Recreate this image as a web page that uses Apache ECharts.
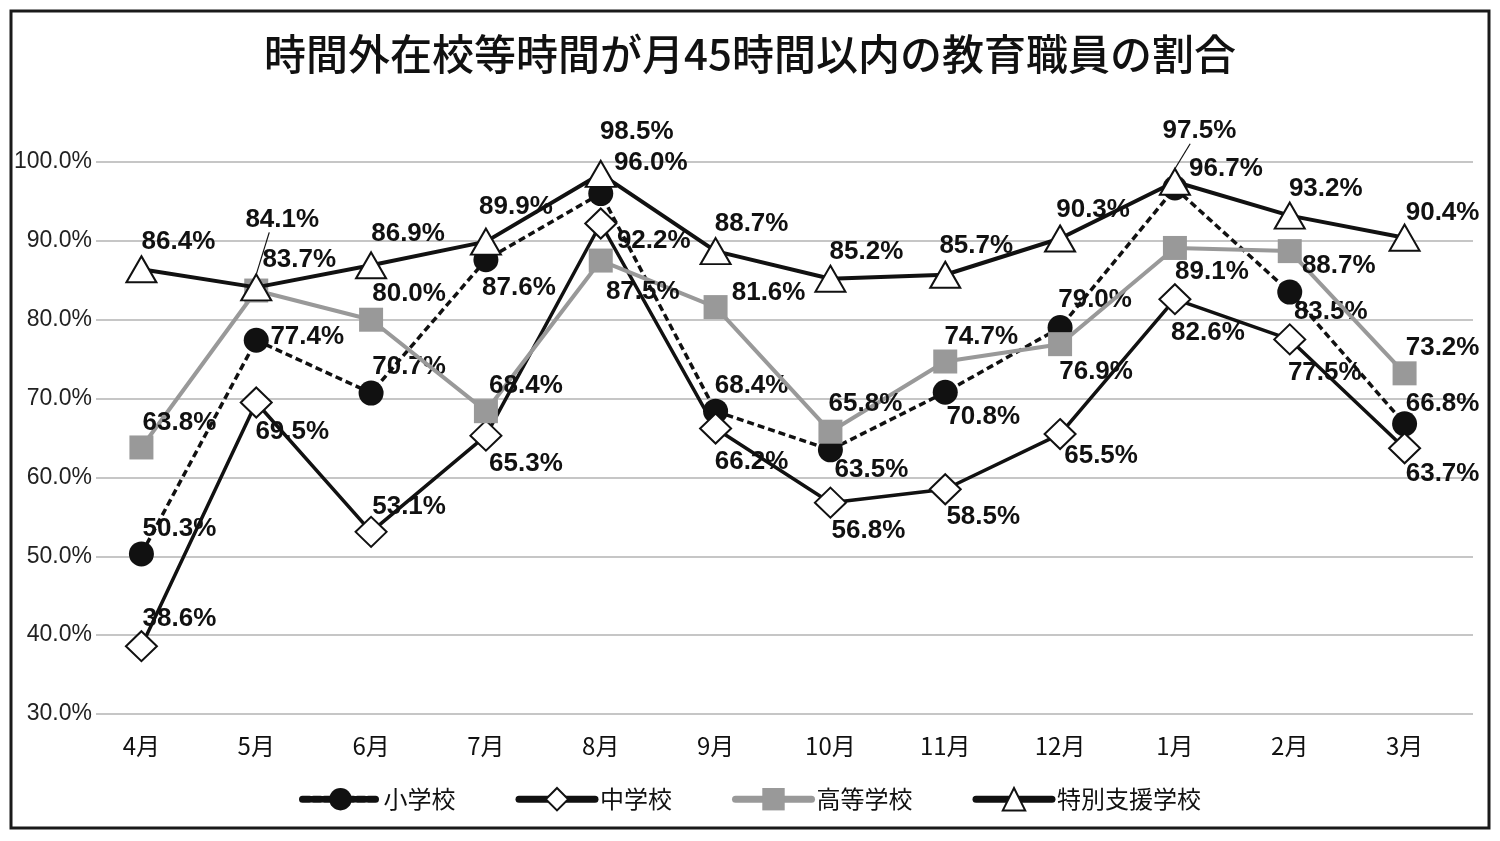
<!DOCTYPE html>
<html><head><meta charset="utf-8">
<script src="https://cdn.jsdelivr.net/npm/echarts@6/dist/echarts.min.js"></script>
<style>html,body{margin:0;padding:0;background:#fff}#c{width:1500px;height:841px}</style>
</head><body><div id="c"></div>
<script>
// ---- data ----
const categories = ['4月','5月','6月','7月','8月','9月','10月','11月','12月','1月','2月','3月'];
const seriesNames = ['小学校','中学校','高等学校','特別支援学校'];
const elementary = [50.3,77.4,70.7,87.6,96.0,68.4,63.5,70.8,79.0,96.7,83.5,66.8];
const juniorHigh = [38.6,69.5,53.1,65.3,92.2,66.2,56.8,58.5,65.5,82.6,77.5,63.7];
const highSchool = [63.8,83.7,80.0,68.4,87.5,81.6,65.8,74.7,76.9,89.1,88.7,73.2];
const special    = [86.4,84.1,86.9,89.9,98.5,88.7,85.2,85.7,90.3,97.5,93.2,90.4];
const yMin = 30, yMax = 100, yStep = 10;

// ---- label placement (style only) ----
const offElem = [[38,-25],[51,-3],[38,-26],[33,28],[50,-31],[36,-25],[41,20],[38,25],[35,-28],[51,-19],[41,20],[38,-20]];
const offJr   = [[38,-27],[36,29],[38,-25],[40,28],[53,17],[36,33],[38,28],[38,28],[41,22],[33,34],[35,33],[38,26]];
const offHigh = [[38,-25],[43,-31],[38,-26],[40,-25],[42,31],[53,-14],[35,-28],[36,-25],[36,28],[37,24],[49,15],[38,-26]];
const offSp   = [[37,-27],[0,-68],[37,-31],[30,-35],[36,-42],[36,-27],[36,-27],[31,-29],[33,-29],[6,-51],[36,-27],[38,-25]];
// leader-line labels: invisible lead-in width so the guide line drops from the label's left part
const leaderSp = {1: 52, 9: 37};

const INK = '#111';
const labelFont = {fontSize: 26, fontWeight: 'bold', fontFamily: '"Liberation Sans", Arial, sans-serif', color: INK};

function mkSeries(name, values, offsets, leaders, sym, symSize, itemStyle, lineStyle, z) {
  const rich = {v: Object.assign({}, labelFont)};
  Object.keys(leaders).forEach(k => { rich['g' + k] = {width: leaders[k], height: 1}; });
  return {
    type: 'line', name: name, xAxisIndex: 1, yAxisIndex: 1,
    data: values.map((v, i) => {
      const d = {value: v};
      if (leaders[i] != null) d.labelLine = {show: true};
      return d;
    }),
    symbol: sym, symbolSize: symSize, showAllSymbol: true,
    itemStyle: itemStyle, lineStyle: lineStyle, z: z,
    emphasis: {disabled: true},
    label: Object.assign({
      show: true, position: 'inside', rich: rich,
      formatter: p => {
        const t = Number(p.value).toFixed(1) + '%';
        return leaders[p.dataIndex] != null ? '{g' + p.dataIndex + '|}{v|' + t + '}' : t;
      }
    }, labelFont),
    labelLayout: p => ({dx: offsets[p.dataIndex][0], dy: offsets[p.dataIndex][1]}),
    labelLine: {show: false, lineStyle: {color: INK, width: 1.2}}
  };
}

const chart = echarts.init(document.getElementById('c'));
chart.setOption({
  animation: false,
  backgroundColor: '#fff',
  title: {
    text: '時間外在校等時間が月45時間以内の教育職員の割合',
    left: 'center', top: 28,
    textStyle: {fontSize: 42, fontWeight: 500, fontFamily: '"Noto Sans CJK JP", sans-serif', color: INK}
  },
  legend: {
    data: seriesNames, top: 782, left: 'center',
    itemWidth: 76, itemHeight: 28, itemGap: 60,
    lineStyle: {width: 7, cap: 'round'},
    textStyle: {fontSize: 24, fontFamily: '"Noto Sans CJK JP", sans-serif', color: INK}
  },
  graphic: [{
    type: 'rect', shape: {x: 11, y: 11, width: 1478, height: 817},
    style: {fill: 'none', stroke: '#1a1a1a', lineWidth: 3}, silent: true, z: 100
  }],
  grid: [
    {left: 96, right: 27, top: 162, bottom: 127},
    {left: 84, right: 38, top: 162, bottom: 127}
  ],
  xAxis: [
    {gridIndex: 0, type: 'category', data: categories, show: false},
    {gridIndex: 1, type: 'category', data: categories,
     axisLine: {show: false}, axisTick: {show: false}, splitLine: {show: false},
     axisLabel: {fontSize: 24, margin: 20, color: INK, fontFamily: '"Noto Sans CJK JP", sans-serif'}}
  ],
  yAxis: [
    {gridIndex: 0, type: 'value', min: yMin, max: yMax, interval: yStep,
     axisLine: {show: false}, axisTick: {show: false},
     splitLine: {lineStyle: {color: '#b3b3b3', width: 1.5}},
     axisLabel: {fontSize: 23, margin: 4, color: '#222', fontFamily: '"Liberation Sans", Arial, sans-serif',
                 formatter: v => v.toFixed(1) + '%'}},
    {gridIndex: 1, type: 'value', min: yMin, max: yMax, interval: yStep, show: false}
  ],
  series: [
    mkSeries(seriesNames[0], elementary, offElem, {}, 'circle', 25,
      {color: INK}, {color: INK, width: 3.5, type: [7, 4]}, 2),
    mkSeries(seriesNames[1], juniorHigh, offJr, {}, 'diamond', [31, 30],
      {color: '#fff', borderColor: INK, borderWidth: 2}, {color: INK, width: 3.5}, 3),
    mkSeries(seriesNames[2], highSchool, offHigh, {}, 'rect', 24,
      {color: '#999'}, {color: '#999', width: 4}, 4),
    mkSeries(seriesNames[3], special, offSp, leaderSp, 'triangle', [30, 26],
      {color: '#fff', borderColor: INK, borderWidth: 2}, {color: INK, width: 4}, 5)
  ]
});
</script></body></html>
